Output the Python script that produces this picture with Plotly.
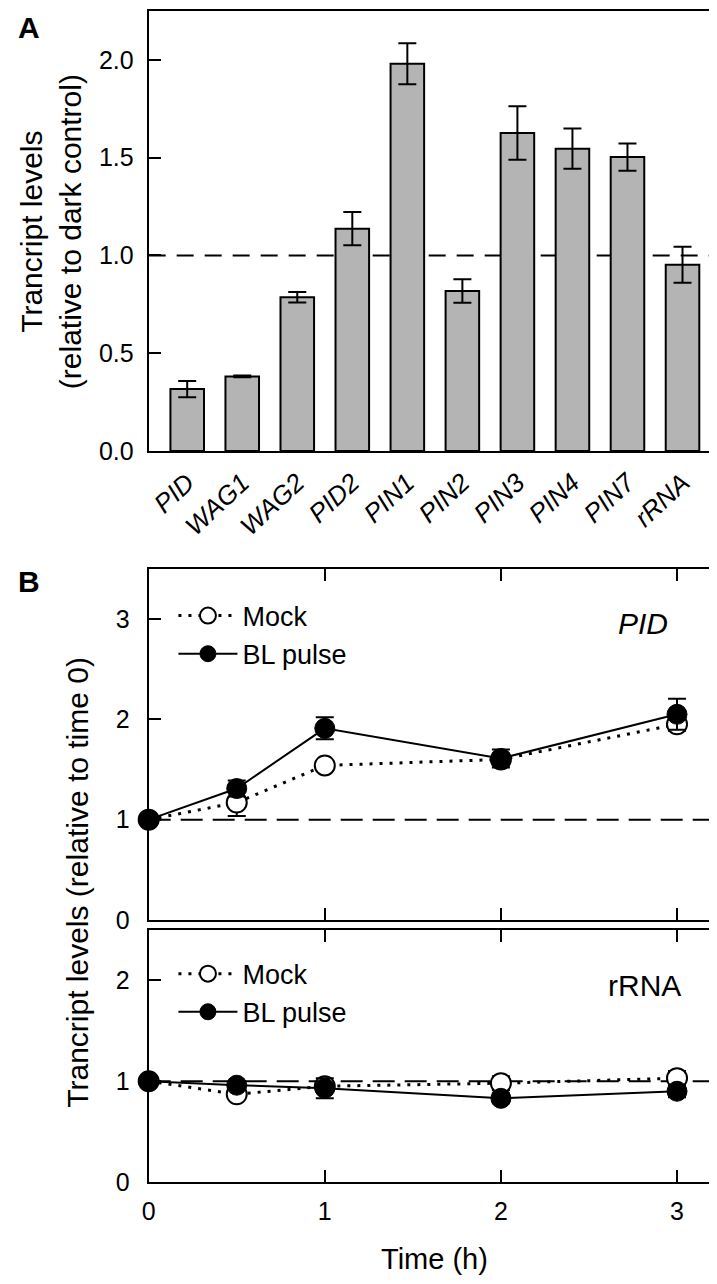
import plotly.graph_objects as go

# ---------------- data ----------------
genes = ["PID", "WAG1", "WAG2", "PID2", "PIN1", "PIN2", "PIN3", "PIN4", "PIN7", "rRNA"]
levels = [0.317, 0.382, 0.787, 1.137, 1.98, 0.819, 1.626, 1.546, 1.503, 0.953]
levels_err = [0.042, 0.005, 0.027, 0.085, 0.105, 0.06, 0.137, 0.103, 0.07, 0.092]

time_h = [0, 0.5, 1, 2, 3]
pid_mock = [1.0, 1.17, 1.54, 1.60, 1.95]
pid_mock_err = [0.0, 0.135, 0.045, 0.06, 0.065]
pid_bl = [1.0, 1.31, 1.91, 1.61, 2.05]
pid_bl_err = [0.0, 0.08, 0.11, 0.09, 0.155]
rrna_mock = [1.0, 0.87, 0.95, 0.98, 1.03]
rrna_mock_err = [0.0, 0.04, 0.04, 0.07, 0.07]
rrna_bl = [1.0, 0.96, 0.93, 0.83, 0.90]
rrna_bl_err = [0.0, 0.03, 0.10, 0.05, 0.06]

W, H = 717, 1284
FONT = "Liberation Sans, Arial, sans-serif"


def px(x):
    return x / W


def py(y):
    return 1 - y / H


fig = go.Figure()

# ---------------- panel A ----------------
fig.add_trace(go.Bar(
    x=genes, y=levels, width=0.61,
    marker=dict(color="#b4b4b4", line=dict(color="black", width=2)),
    error_y=dict(type="data", array=levels_err, color="black", thickness=2, width=9),
    xaxis="x", yaxis="y", showlegend=False,
))

# ---------------- panel B ----------------
def add_pair(mock, mock_err, bl, bl_err, xa, ya, leg):
    fig.add_trace(go.Scatter(
        x=time_h, y=mock, name="Mock", mode="lines+markers",
        line=dict(color="black", width=3, dash="3px,7px"),
        marker=dict(symbol="circle", size=20, color="white", line=dict(color="black", width=2)),
        error_y=dict(type="data", array=mock_err, color="black", thickness=2, width=9),
        xaxis=xa, yaxis=ya, legend=leg, cliponaxis=False,
    ))
    fig.add_trace(go.Scatter(
        x=time_h, y=bl, name="BL pulse", mode="lines+markers",
        line=dict(color="black", width=2),
        marker=dict(symbol="circle", size=20, color="black", line=dict(color="black", width=1)),
        error_y=dict(type="data", array=bl_err, color="black", thickness=2, width=9),
        xaxis=xa, yaxis=ya, legend=leg, cliponaxis=False,
    ))


add_pair(pid_mock, pid_mock_err, pid_bl, pid_bl_err, "x2", "y2", "legend")
add_pair(rrna_mock, rrna_mock_err, rrna_bl, rrna_bl_err, "x3", "y3", "legend2")

xdom = [px(135), px(713)]
axis_common = dict(showline=True, linecolor="black", linewidth=2, mirror="ticks",
                   showgrid=False, zeroline=False, ticks="inside", ticklen=12,
                   tickwidth=2, tickcolor="black",
                   tickfont=dict(family=FONT, size=25, color="black"))

fig.update_layout(
    width=W, height=H,
    margin=dict(l=0, r=0, t=0, b=0),
    paper_bgcolor="white", plot_bgcolor="white",
    font=dict(family=FONT, color="black"),
    xaxis=dict(domain=xdom, anchor="y", range=[-0.7, 9.7], showline=True, linecolor="black",
               linewidth=2, mirror=True, ticks="", showgrid=False, zeroline=False,
               tickangle=-43, ticklabelstandoff=4,
               tickfont=dict(family=FONT, size=26, color="black", style="italic")),
    yaxis=dict(domain=[py(448), py(3)], anchor="x", range=[0, 2.25],
               tickvals=[0, 0.5, 1.0, 1.5, 2.0], tickformat=".1f",
               ticklabelstandoff=8, **axis_common),
    xaxis2=dict(domain=xdom, anchor="y2", range=[0, 3.25], tickvals=[0, 1, 2, 3],
                showticklabels=False, **axis_common),
    yaxis2=dict(domain=[py(922), py(567)], anchor="x2", range=[0, 3.5],
                tickvals=[0, 1, 2, 3], ticklabelstandoff=12, **axis_common),
    xaxis3=dict(domain=xdom, anchor="y3", range=[0, 3.25], tickvals=[0, 1, 2, 3],
                ticklabelstandoff=6, **axis_common),
    yaxis3=dict(domain=[py(1187), py(932)], anchor="x3", range=[0, 2.5],
                tickvals=[0, 1, 2], ticklabelstandoff=12, **axis_common),
    legend=dict(x=px(160), y=py(590), xanchor="left", yanchor="top",
                bgcolor="rgba(0,0,0,0)", itemwidth=59, tracegroupgap=0,
                font=dict(family=FONT, size=27, color="black")),
    legend2=dict(x=px(160), y=py(952), xanchor="left", yanchor="top",
                 bgcolor="rgba(0,0,0,0)", itemwidth=59, tracegroupgap=0,
                 font=dict(family=FONT, size=27, color="black")),
)

# reference dashed lines at 1
fig.add_shape(type="line", xref="x domain", yref="y", x0=0, x1=1, y0=1, y1=1,
              line=dict(color="black", width=2, dash="17px,11px"), layer="below")
fig.add_shape(type="line", xref="x2 domain", yref="y2", x0=0, x1=1, y0=1, y1=1,
              line=dict(color="black", width=2, dash="22px,10px"), layer="below")
fig.add_shape(type="line", xref="x3 domain", yref="y3", x0=0, x1=1, y0=1, y1=1,
              line=dict(color="black", width=2, dash="22px,10px"), layer="below")

ann = [
    dict(text="<b>A</b>", x=px(1), y=py(1), xanchor="left", yanchor="top", size=30),
    dict(text="<b>B</b>", x=px(1), y=py(580), xanchor="left", yanchor="middle", size=30),
    dict(text="Trancript levels<br>(relative to dark control)", x=px(36), y=py(226),
         xanchor="center", yanchor="middle", size=30, textangle=-90),
    dict(text="Trancript levels (relative to time 0)", x=px(63), y=py(884),
         xanchor="center", yanchor="middle", size=30, textangle=-90),
    dict(text="Time (h)", x=px(424), y=py(1265), xanchor="center", yanchor="middle", size=29),
    dict(text="<i>PID</i>", x=px(634), y=py(622), xanchor="center", yanchor="middle", size=30),
    dict(text="rRNA", x=px(636), y=py(988), xanchor="center", yanchor="middle", size=30),
]
for a in ann:
    size = a.pop("size")
    textangle = a.pop("textangle", 0)
    fig.add_annotation(xref="paper", yref="paper", showarrow=False,
                       font=dict(family=FONT, size=size, color="black"),
                       textangle=textangle, **a)

fig.write_html("out.html")
